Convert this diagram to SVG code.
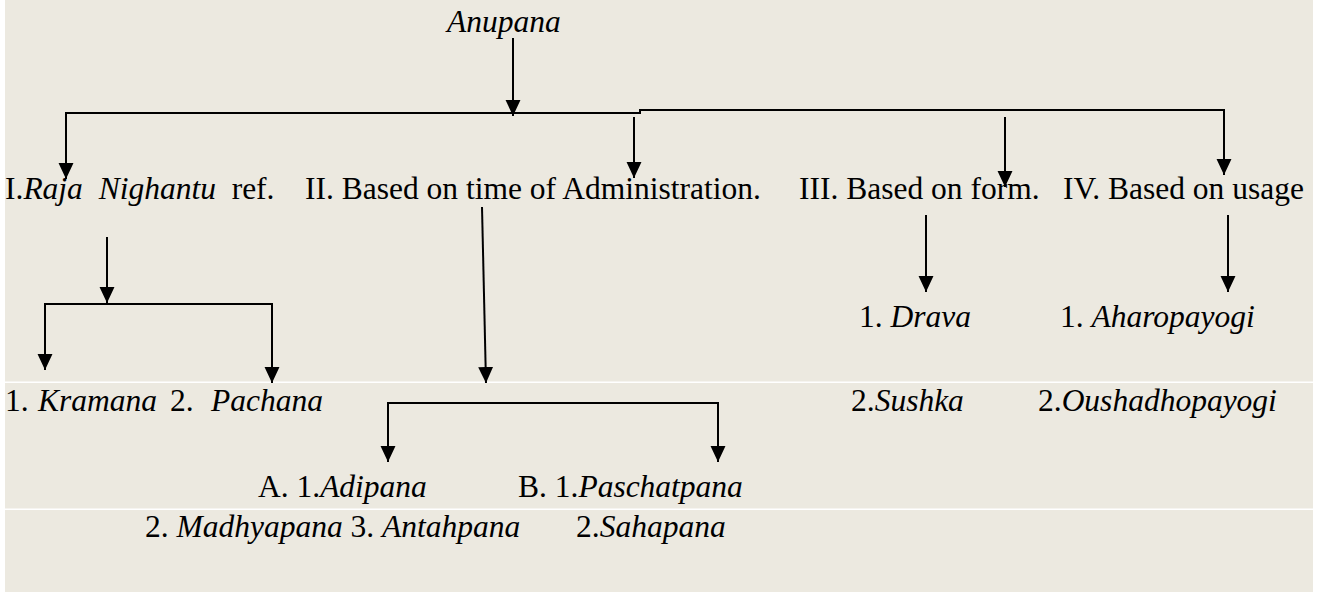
<svg xmlns="http://www.w3.org/2000/svg" width="1323" height="592" viewBox="0 0 1323 592">
<style>
.t{font-family:"Liberation Serif","Times New Roman",Tinos,Times,serif;font-size:31.5px;fill:#000;white-space:pre}
.i{font-style:italic}
.c{fill:none;stroke:#000;stroke-width:2}
.a{fill:none;stroke:#000;stroke-width:2;marker-end:url(#ah)}
</style>
<defs>
<marker id="ah" markerUnits="userSpaceOnUse" markerWidth="16" markerHeight="16" refX="15" refY="7" orient="auto" viewBox="0 0 15 14">
<path d="M0,0 L15,7 L0,14 Z" fill="#000"/>
</marker>
</defs>
<rect x="0" y="0" width="1323" height="592" fill="#fff"/>
<rect x="5" y="0" width="1308" height="592" fill="#ECE9E0"/>
<rect x="5" y="381.5" width="1308" height="1.5" fill="#fff"/>
<rect x="5" y="508.5" width="1308" height="1.5" fill="#fff"/>

<g id="connectors">
<line class="a" x1="513" y1="38" x2="513" y2="116"/>
<path class="c" d="M66,114 V113 H640 V110 H1224 V112"/>
<line class="a" x1="66" y1="113" x2="66" y2="179"/>
<line class="a" x1="1224" y1="110" x2="1224" y2="175"/>
<line class="a" x1="634" y1="117" x2="634" y2="178"/>
<line class="a" x1="1005" y1="117" x2="1005" y2="187"/>
<line class="a" x1="107" y1="237" x2="107" y2="303"/>
<path class="c" d="M45,305 V304 H272 V306"/>
<line class="a" x1="45" y1="304" x2="45" y2="370"/>
<line class="a" x1="272" y1="304" x2="272" y2="383"/>
<line class="a" x1="482" y1="207" x2="486" y2="383"/>
<path class="c" d="M388,405 V403 H718 V405"/>
<line class="a" x1="388" y1="403" x2="388" y2="462"/>
<line class="a" x1="718" y1="403" x2="718" y2="462"/>
<line class="a" x1="926" y1="215" x2="926" y2="292"/>
<line class="a" x1="1228" y1="215" x2="1228" y2="292"/>
</g>

<g id="root"><text class="t i" x="447" y="32">Anupana</text></g>
<g id="n1"><text class="t" x="5" y="199">I.<tspan class="i">Raja</tspan>  <tspan class="i">Nighantu</tspan>  ref.</text></g>
<g id="n2"><text class="t" x="305" y="199">II. Based on time of Administration.</text></g>
<g id="n3"><text class="t" x="799" y="199">III. Based on form.</text></g>
<g id="n4"><text class="t" x="1063" y="199">IV. Based on usage</text></g>
<g id="n1a"><text class="t" x="5" y="411">1. <tspan x="38" class="i">Kramana</tspan><tspan x="170">2. </tspan><tspan x="211" class="i">Pachana</tspan></text></g>
<g id="n2a"><text class="t" x="258" y="497">A. 1.<tspan class="i">Adipana</tspan></text><text class="t" x="145" y="537">2. <tspan class="i">Madhyapana</tspan> 3. <tspan class="i">Antahpana</tspan></text></g>
<g id="n2b"><text class="t" x="518" y="497">B. 1.<tspan class="i">Paschatpana</tspan></text><text class="t" x="576" y="537">2.<tspan class="i">Sahapana</tspan></text></g>
<g id="n3a"><text class="t" x="859" y="327">1. <tspan class="i">Drava</tspan></text><text class="t" x="851" y="411">2.<tspan class="i">Sushka</tspan></text></g>
<g id="n4a"><text class="t" x="1060" y="327">1. <tspan class="i">Aharopayogi</tspan></text><text class="t" x="1038" y="411">2.<tspan class="i">Oushadhopayogi</tspan></text></g>
</svg>
